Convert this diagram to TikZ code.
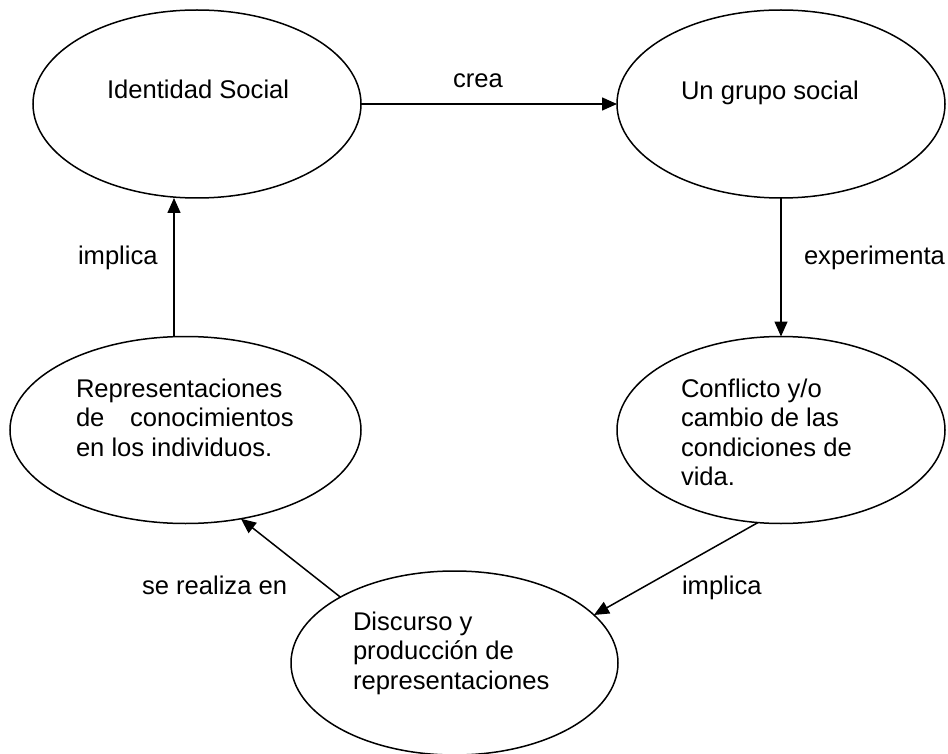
\documentclass[tikz,border=0pt]{standalone}
\usepackage{fontspec}
\setmainfont{Liberation Sans}
\usetikzlibrary{arrows.meta,shapes.geometric}
\tikzset{
  oval/.style={draw, ellipse, line width=1.5pt, inner sep=0pt, outer sep=0pt},
  txt/.style={anchor=base west, inner sep=0pt, outer sep=0pt, font=\fontsize{25.6}{29.5}\selectfont},
  arr/.style={line width=1.5pt, -{Triangle[length=15pt,width=13pt]}}
}
\newcommand{\lines}[1]{\begin{tabular}[t]{@{}l@{}}#1\end{tabular}}
\begin{document}
\begin{tikzpicture}[x=1pt,y=-1pt]
\useasboundingbox (0,0) rectangle (948,754);
% ellipses
\node[oval, minimum width=328pt, minimum height=188pt] (E1) at (197,104) {};
\node[oval, minimum width=328pt, minimum height=188pt] (E2) at (781,104) {};
\node[oval, minimum width=328pt, minimum height=187pt] (E3) at (781,430) {};
\node[oval, minimum width=351pt, minimum height=187pt] (E4) at (185.5,430) {};
\node[oval, minimum width=327pt, minimum height=184pt] (E5) at (454.5,663) {};
% texts
\node[txt] (T1) at (107,99) {Identidad Social};
\node[txt] (T2) at (681,100) {Un grupo social};
\node[txt] (T3) at (681,397) {\lines{Conflicto y/o\\cambio de las\\condiciones de\\vida.}};
\node[txt] (T4) at (76,397) {\lines{Representaciones\\de\hspace{1em}conocimientos\\en los individuos.}};
\node[txt] (T5) at (353,630) {\lines{Discurso y\\producción de\\representaciones}};
% labels
\node[txt] (Lcrea) at (453,88) {crea};
\node[txt] (Lexp) at (804,265) {experimenta};
\node[txt] (Limp1) at (78,265) {implica};
\node[txt] (Lreal) at (142,594) {se realiza en};
\node[txt] (Limp2) at (682,594) {implica};
% connectors
\coordinate (L) at (174,0);
\draw[arr] (E1) -- (E2);
\draw[arr] (E2) -- (E3);
\draw[arr] (E4.north -| L) -- (E1.south -| L);
\draw[arr] (E3.256) -- (E5.19);
\draw[arr] (E5.150) -- (E4.302);
\end{tikzpicture}
\end{document}
